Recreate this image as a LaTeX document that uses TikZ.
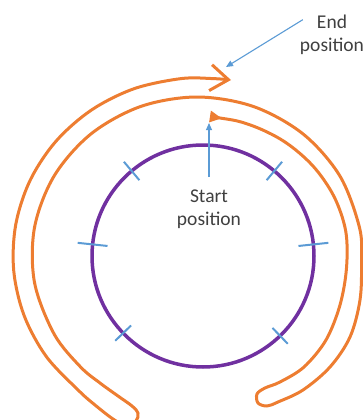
\documentclass[tikz,border=0pt]{standalone}
\usepackage{fontspec}
\setmainfont{Carlito}
\definecolor{trackorange}{HTML}{ED7D31}
\definecolor{wheelpurple}{HTML}{7030A0}
\definecolor{markblue}{HTML}{5B9BD5}
\definecolor{labelgray}{HTML}{404040}
\usetikzlibrary{arrows.meta, calc}

\begin{document}
\begin{tikzpicture}[x=1pt, y=-1pt, >=Stealth,
    track/.style={trackorange, line width=3pt, line join=round},
    rim/.style={wheelpurple, line width=3.5pt},
    tickmark/.style={markblue, line width=2pt},
    pointer/.style={markblue, line width=1.1pt, -{Triangle[length=7pt, width=6pt]}},
    lbl/.style={font=\fontsize{19.5}{23.5}\selectfont, text=labelgray, align=center, inner sep=0pt}]
  \useasboundingbox (0,0) rectangle (363,420);
  \clip (0,0) rectangle (363,420);

  % wheel and its six marks
  \coordinate (hub) at (203,256);
  \draw[rim] (hub) circle[radius=111];
  \foreach \a/\l in {-174/15, -6/15, -50/12, -130/12, 46/11, 136/11}
    \draw[tickmark] ($(hub)+(\a:{111-\l})$) -- ($(hub)+(\a:{111+\l})$);

  % track: out from the start, back all the way round, out again to the end
  \draw[track, {Triangle[reversed, length=12pt, width=11pt]}-{Straight Barb[length=18pt, width=26pt]}]
    plot[smooth, tension=0.55] coordinates {
      (210,116.5) (248.6,124.4) (283.6,141.1) (312.7,165.7) (333.9,196.3) (345.7,231)
      (346.5,268) (340,305) (326,340) (304,367) (280,382) (265,388)
      (257,394) (258,403) (267,406) (278,402)
      (303,390) (330,367) (350,337) (360,300) (361.5,262) (359.5,227.6)
      (339.9,176) (303.1,134) (253.4,106.5) (197,97) (140.6,106.5) (90.9,134)
      (54.1,176) (34.5,227.6) (34.5,282.4) (54.1,334) (80.3,366.7) (100,383) (118,396) (132,406)
      (138,413) (136,421) (125,425) (113,419)
      (95,405) (78.7,390.6) (46.3,356.5) (24.1,315.5) (13.7,270.4) (15.8,224.3)
      (30.2,180.2) (56,141.2) (91.5,110) (134.1,88.7) (181,78.6) (213,78.6) (231,80)};

  % labels
  \node[lbl] (startlbl) at (209,209) {Start\\position};
  \node[lbl] (endlbl) at (332,35) {End\\position};
  \coordinate (startpt) at (209,123);
  \coordinate (endpt) at (226,67);
  \draw[pointer, shorten <=12pt] (startlbl) -- (startpt);
  \draw[pointer] ([xshift=3pt, yshift=-5pt]endlbl.north west) -- (endpt);
\end{tikzpicture}
\end{document}
